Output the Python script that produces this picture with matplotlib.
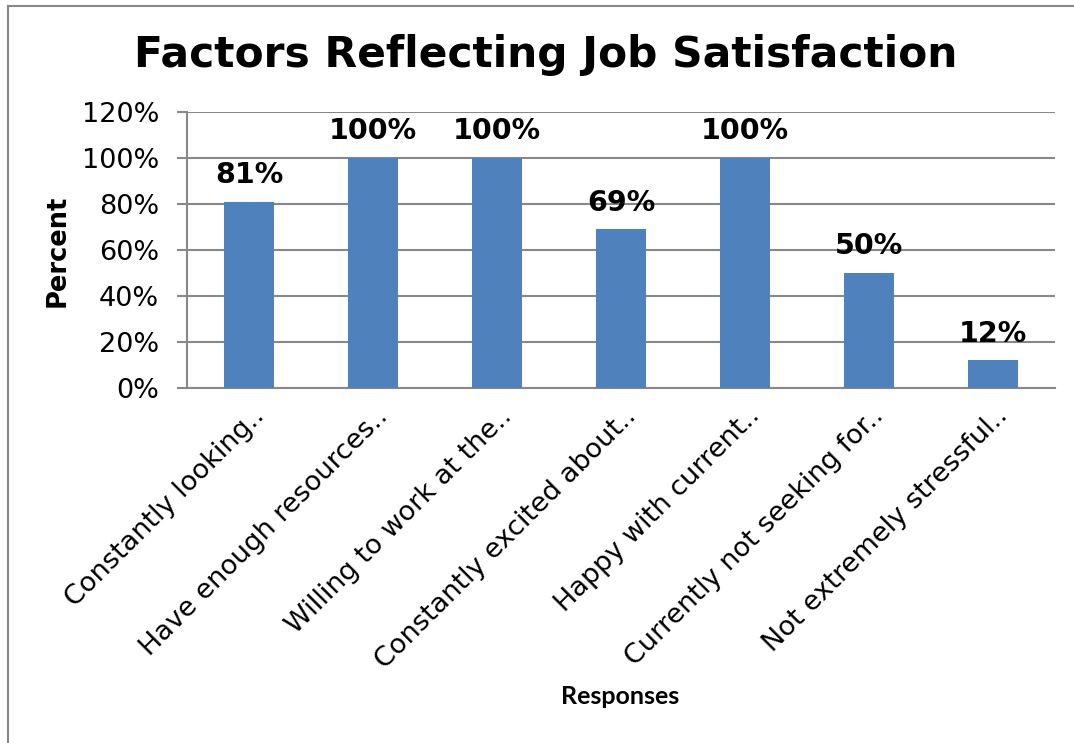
import matplotlib
matplotlib.use("Agg")
import matplotlib.pyplot as plt
from matplotlib.lines import Line2D
from matplotlib.transforms import ScaledTranslation

# Data
categories = [
    "Constantly looking..",
    "Have enough resources..",
    "Willing to work at the..",
    "Constantly excited about..",
    "Happy with current..",
    "Currently not seeking for..",
    "Not extremely stressful..",
]
percent = [81, 100, 100, 69, 100, 50, 12]
yticks = [0, 20, 40, 60, 80, 100, 120]

fig = plt.figure(figsize=(10.74, 7.43), dpi=100)
ax = fig.add_axes([187 / 1074, 1 - 388 / 743, 868 / 1074, 276 / 743])

x = list(range(len(categories)))
bars = ax.bar(x, percent, width=0.4, color="#4F81BD", zorder=3)

# Value labels above bars
for xi, v in zip(x, percent):
    ax.annotate(f"{v}%", (xi, v), xytext=(0, 13.5), textcoords="offset points",
                ha="center", va="baseline", fontsize=20.5, fontweight="bold")

ax.set_xlim(-0.5, len(categories) - 0.5)
ax.set_ylim(0, 120)
ax.set_yticks(yticks)
ax.set_yticklabels([f"{t}%" for t in yticks], fontsize=19.5)
ax.grid(axis="y", color="#888888", linewidth=1.5, zorder=0)

for s in ["top", "right"]:
    ax.spines[s].set_visible(False)
for s in ["left", "bottom"]:
    ax.spines[s].set_color("#888888")
    ax.spines[s].set_linewidth(1.5)

ax.tick_params(axis="y", length=7, width=1.5, color="#888888", pad=13)
ax.set_xticks(x)
ax.set_xticklabels(categories, rotation=45, ha="right", va="baseline",
                   rotation_mode="anchor", fontsize=19.5)
ax.tick_params(axis="x", length=0, pad=21)
for lbl in ax.get_xticklabels():
    lbl.set_transform(lbl.get_transform() + ScaledTranslation(0.16, 0, fig.dpi_scale_trans))

# Titles / labels
fig.text(546 / 1074, 1 - 55 / 743, "Factors Reflecting Job Satisfaction",
         ha="center", va="center", fontsize=30.5, fontweight="bold")
fig.text(58 / 1074, 1 - 251 / 743, "Percent", rotation=90, ha="center",
         va="center", fontsize=18.5, fontweight="bold")
fig.text(620 / 1074, 1 - 697 / 743, "Responses", ha="center", va="center",
         fontsize=18, fontweight="bold", family="Lato")

# Chart border (top and left visible)
fig.add_artist(Line2D([8 / 1074, 1], [1 - 6 / 743, 1 - 6 / 743],
                      transform=fig.transFigure, color="#888888", linewidth=1.5))
fig.add_artist(Line2D([8 / 1074, 8 / 1074], [0, 1 - 6 / 743],
                      transform=fig.transFigure, color="#888888", linewidth=1.5))

fig.savefig("out.png", dpi=100)
